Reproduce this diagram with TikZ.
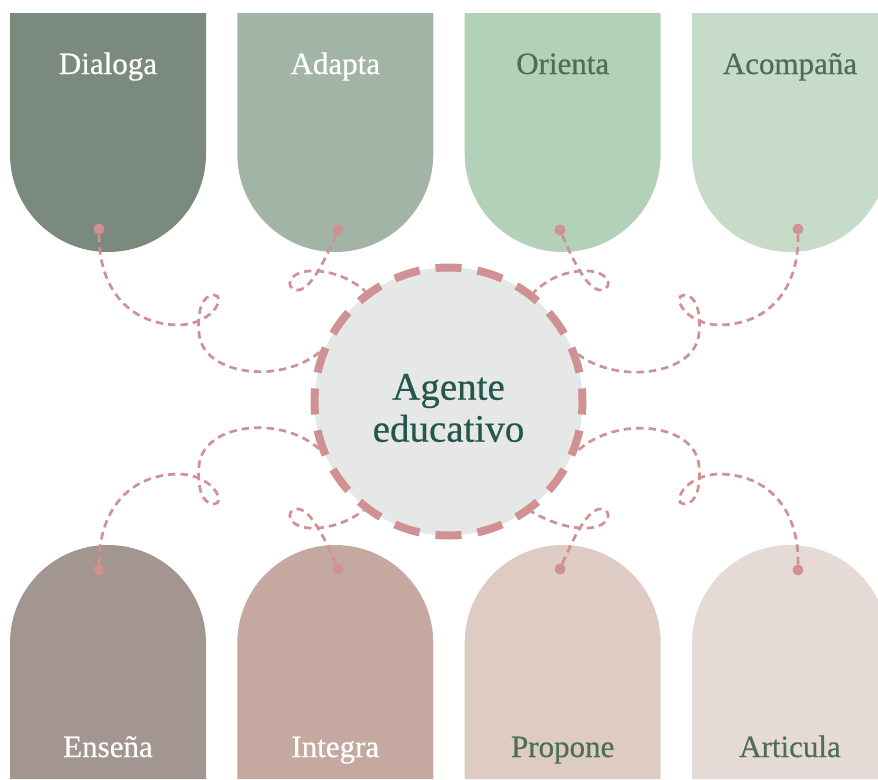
\documentclass[tikz,border=0pt]{standalone}
\usepackage{fontspec}
\setmainfont{Liberation Serif}
\newfontfamily\labelfont[FakeBold=0.5]{Liberation Serif}
\usetikzlibrary{calc}

\definecolor{dialoga}{HTML}{7B8A7E}
\definecolor{adapta}{HTML}{A1B4A5}
\definecolor{orienta}{HTML}{B3D1B9}
\definecolor{acompana}{HTML}{C6DCC9}
\definecolor{ensena}{HTML}{A39590}
\definecolor{integra}{HTML}{C5A9A0}
\definecolor{propone}{HTML}{DDCBC4}
\definecolor{articula}{HTML}{E6DAD6}
\definecolor{leafgreen}{HTML}{4B6E54}
\definecolor{deepgreen}{HTML}{24574A}
\definecolor{hubgrey}{HTML}{E6E8E8}
\definecolor{ribbon}{HTML}{D09192}

\tikzstyle{thread}=[draw=ribbon,line width=2.7pt,dash pattern=on 7.5pt off 5pt]
\tikzstyle{pin}=[circle,fill=ribbon,inner sep=0pt,minimum size=11pt]
\tikzstyle{word}=[anchor=base,font=\labelfont\fontsize{31}{36}\selectfont]

\newcommand{\drawtopbox}[5]{
\fill[#2] (#1-98,13) -- (#1+98,13) -- (#1+98,154) arc (0:180:98) -- cycle;
\node[word,text=#3] (#4) at (#1,74) {#5};
}
\newcommand{\drawbottombox}[5]{
\fill[#2] (#1-98,779) -- (#1-98,643) arc (180:360:98) -- (#1+98,779) -- cycle;
\node[word,text=#3] (#4) at (#1,757) {#5};
}
\newcommand{\drawthreads}[4]{
\pgfmathtruncatemacro{\outang}{mod(atan2(#2*sin(159),#1*cos(159))+360,360)}
\pgfmathtruncatemacro{\inang}{mod(atan2(#2*sin(127),#1*cos(127))+360,360)}
\begin{scope}[shift={(449,399.5)},xscale=#1,yscale=#2]
  % outer thread, loop near the box
  \draw[thread] (#3) .. controls (-350,-109.5) and (-319,-74.5) .. (-269,-74.5)
    .. controls (-234,-76.5) and (-223,-104.5) .. (-235,-104.5)
    .. controls (-247,-104.5) and (-252,-87.5) .. (-250,-66.5)
    .. controls (-247,-24.5) and (-169,-14.5) .. (agente.\outang);
  % inner thread
  \draw[thread] (#4) .. controls (-124,-139.5) and (-139,-107.5) .. (-153,-109.5)
    .. controls (-164,-111.5) and (-161,-127.5) .. (-139,-128.5)
    .. controls (-119,-129.5) and (-99,-121.5) .. (agente.\inang);
\end{scope}
}

\begin{document}
\begin{tikzpicture}[x=1pt,y=-1pt]
	\clip (0,0) rectangle (878,779);
	\foreach \bx/\bcol/\tcol/\nm/\txt in {108/dialoga/white/dialoga/Dialoga,335.3/adapta/white/adapta/Adapta,562.7/orienta/leafgreen/orienta/Orienta,790/acompana/leafgreen/acompana/Acompaña}
		{\drawtopbox{\bx}{\bcol}{\tcol}{\nm}{\txt}}
	\foreach \bx/\bcol/\tcol/\nm/\txt in {108/ensena/white/ensena/Enseña,335.3/integra/white/integra/Integra,562.7/propone/leafgreen/propone/Propone,790/articula/leafgreen/articula/Articula}
		{\drawbottombox{\bx}{\bcol}{\tcol}{\nm}{\txt}}
	\node[pin] (dialogapin) at (99,229) {};
	\node[pin] (adaptapin) at (338,230) {};
	\node[pin] (orientapin) at (560,230) {};
	\node[pin] (acompanapin) at (798,229) {};
	\node[pin] (ensenapin) at (99,570) {};
	\node[pin] (integrapin) at (338,569) {};
	\node[pin] (proponepin) at (560,569) {};
	\node[pin] (articulapin) at (798,570) {};
	\node[circle,minimum size=268pt,fill=hubgrey,draw=ribbon,line width=8pt,dash pattern=on 26pt off 16.1pt,dash phase=13pt] (agente) at (448.5,401.5) {};
	\drawthreads{1}{1}{dialogapin}{adaptapin}
	\drawthreads{-1}{1}{acompanapin}{orientapin}
	\drawthreads{1}{-1}{ensenapin}{integrapin}
	\drawthreads{-1}{-1}{articulapin}{proponepin}
	\node[text=deepgreen,align=center,font=\labelfont\fontsize{39}{42}\selectfont] (agentetxt) at (448.5,408) {Agente\\educativo};
\end{tikzpicture}
\end{document}
